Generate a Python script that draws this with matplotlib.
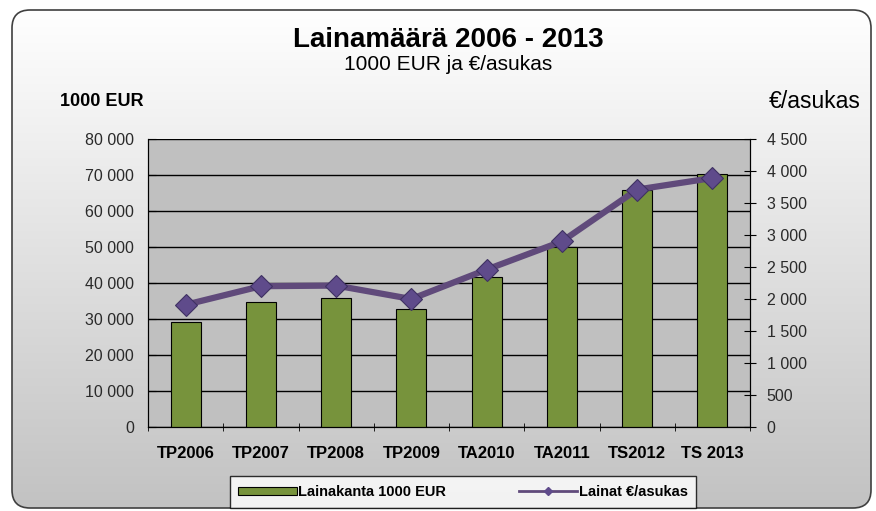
import matplotlib
matplotlib.use("Agg")
import matplotlib.pyplot as plt
import numpy as np
from matplotlib.patches import FancyBboxPatch
from matplotlib.lines import Line2D
from matplotlib.patches import Patch
from matplotlib.ticker import FuncFormatter

plt.rcParams['font.family'] = ['Liberation Sans', 'DejaVu Sans']

categories = ["TP2006", "TP2007", "TP2008", "TP2009", "TA2010", "TA2011", "TS2012", "TS 2013"]
lainakanta = [29200, 34700, 35800, 32800, 41700, 50000, 65800, 70200]
per_asukas = [1910, 2200, 2210, 2000, 2460, 2900, 3710, 3890]

left_ticks = list(range(0, 80001, 10000))
right_ticks = list(range(0, 4501, 500))

def fmt(v, pos=None):
    s = f"{int(round(v)):,}".replace(",", " ")
    return s

fig = plt.figure(figsize=(8.76, 5.11), dpi=100)
fig.patch.set_facecolor("white")

# background gradient with rounded frame
bg = fig.add_axes([0, 0, 1, 1], zorder=-10)
bg.set_xlim(0, 876)
bg.set_ylim(511, 0)
bg.axis("off")
grad = np.linspace(0, 1, 256).reshape(-1, 1)
img = bg.imshow(grad, cmap=matplotlib.colors.LinearSegmentedColormap.from_list("g", ["#ffffff", "#c2c2c2"]),
                extent=[12, 871, 509, 10], aspect="auto", zorder=0)
frame = FancyBboxPatch((12, 10), 859, 498, boxstyle="round,pad=0,rounding_size=18",
                       facecolor="none", edgecolor="#404040", linewidth=1.2, zorder=2)
bg.add_patch(frame)
img.set_clip_path(frame)

ax = fig.add_axes([148/876, 1 - 427/511, (750-148)/876, (427-139)/511])
ax.set_facecolor("#c0c0c0")
x = np.arange(len(categories))
ax.bar(x, lainakanta, width=0.4, color="#77933C", edgecolor="black", linewidth=0.8, zorder=3)
ax.set_ylim(0, 80000)
ax.set_xlim(-0.5, len(categories) - 0.5)
ax.set_yticks(left_ticks)
ax.yaxis.set_major_formatter(FuncFormatter(fmt))
ax.grid(axis="y", color="black", linewidth=1.0, zorder=1)
ax.set_axisbelow(True)
ax.set_xticks(x)
ax.set_xticklabels(categories, fontsize=12, fontweight="bold")
ax.tick_params(axis="x", length=0, pad=14)
ax.set_xticks(np.arange(-0.5, len(categories), 1), minor=True)
ax.tick_params(axis="x", which="minor", length=6, direction="inout", color="black")
ax.tick_params(axis="y", length=6, direction="in", color="black", labelsize=11.5, pad=10, labelcolor="#2a2a2a")
ax.spines["top"].set_visible(False)
ax.spines["left"].set_color("black")
ax.spines["bottom"].set_color("black")
ax.spines["right"].set_color("black")

ax2 = ax.twinx()
ax2.plot(x, per_asukas, color="#604A7B", linewidth=4.5, marker="D", markersize=11,
         markerfacecolor="#5F4B8B", markeredgecolor="#3F3163", markeredgewidth=0.8, zorder=5)
ax2.set_ylim(0, 4500)
ax2.set_yticks(right_ticks)
ax2.yaxis.set_major_formatter(FuncFormatter(fmt))
ax2.tick_params(axis="y", length=8, direction="inout", color="black", labelsize=11.5, pad=8, labelcolor="#2a2a2a")
ax2.spines["top"].set_visible(False)
ax2.spines["right"].set_color("black")

fig.text(448/876, 1 - 40/511, "Lainamäärä 2006 - 2013", ha="center", va="center", fontsize=20, fontweight="bold")
fig.text(448/876, 1 - 64/511, "1000 EUR ja €/asukas", ha="center", va="center", fontsize=15)
fig.text(60/876, 1 - 101/511, "1000 EUR", ha="left", va="center", fontsize=13, fontweight="bold")
fig.text(861/876, 1 - 101/511, "€/asukas", ha="right", va="center", fontsize=16.5)

handles = [Patch(facecolor="#77933C", edgecolor="black", linewidth=0.8),
           Line2D([0], [0], color="#604A7B", linewidth=2, marker="D", markersize=4,
                  markerfacecolor="#5F4B8B", markeredgecolor="#5F4B8B")]
leg = fig.legend(handles, ["Lainakanta 1000 EUR", "Lainat €/asukas"], loc="center",
                 bbox_to_anchor=(463/876, 1 - 492/511), ncol=2, frameon=True, fancybox=False,
                 edgecolor="black", prop={"weight": "bold", "size": 10.5},
                 handlelength=4.0, handleheight=0.5, columnspacing=5, borderpad=0.6,
                 handletextpad=0.1, borderaxespad=0)
leg.get_frame().set_linewidth(1.0)
leg.get_frame().set_facecolor("white")

fig.savefig("out.png", dpi=100, facecolor=fig.get_facecolor())
